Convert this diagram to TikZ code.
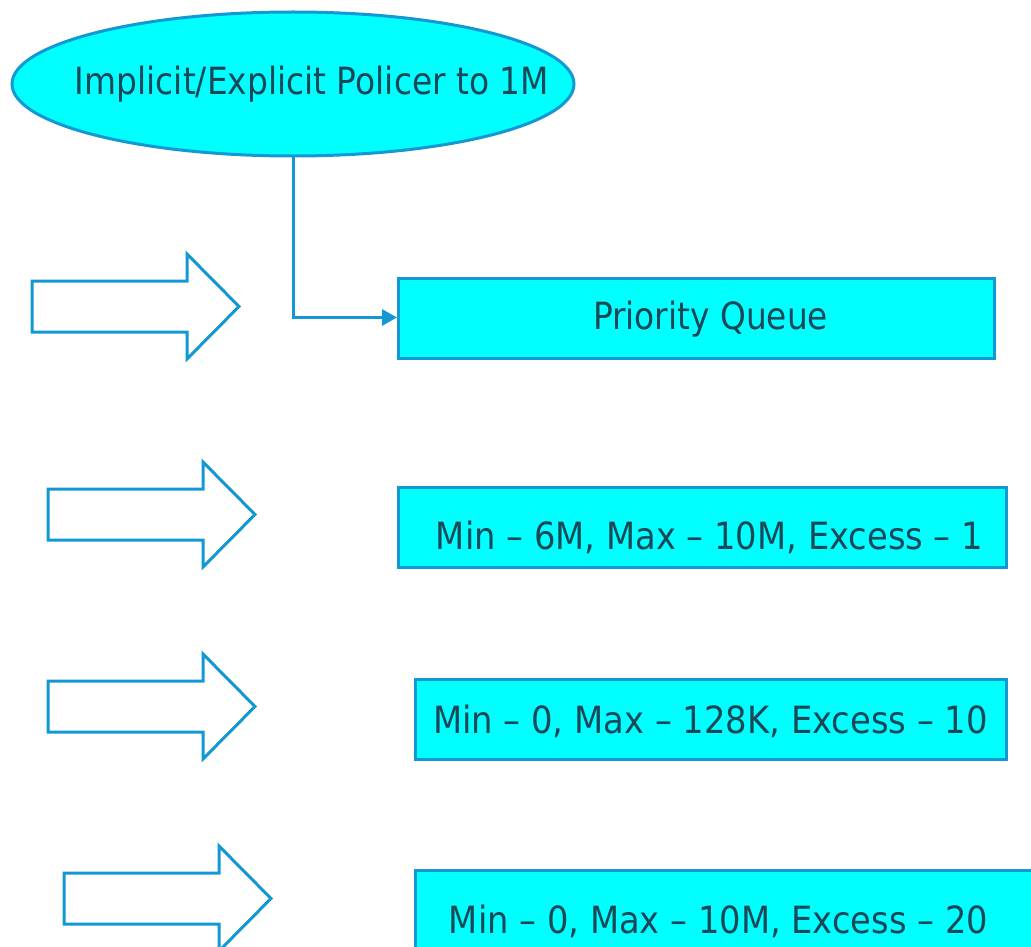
\documentclass[tikz,border=0pt]{standalone}
\usepackage{fontspec}
\setmainfont{DejaVu Sans}
\usetikzlibrary{shapes.geometric,arrows.meta}

\definecolor{edgeblue}{RGB}{20,152,212}
\definecolor{fillcyan}{RGB}{0,255,255}
\definecolor{inkteal}{RGB}{26,72,88}

% set a label to a given width, keeping its natural height
\newcommand\fitto[2]{\resizebox{#1}{\height}{#2}}

\begin{document}
\begin{tikzpicture}[x=1pt,y=-1pt,
  policy/.style={ellipse, draw=edgeblue, line width=3pt, fill=fillcyan,
    minimum width=562pt, minimum height=144pt, inner sep=0pt},
  queuebox/.style={rectangle, draw=edgeblue, line width=3pt, fill=fillcyan,
    inner sep=0pt, anchor=north west, minimum height=80pt},
  labeltext/.style={inner sep=0pt, anchor=base, text=inkteal,
    font=\fontsize{37.5}{40}\selectfont},
  link/.style={draw=edgeblue, line width=3pt,
    -{Triangle[length=15pt,width=16pt]}},
  blockarrow/.pic={
    \draw[draw=edgeblue, line width=3pt, fill=white, line join=miter]
      (0,-25.5) -- (155,-25.5) -- (155,-52.5) -- (207,0)
      -- (155,52.5) -- (155,25.5) -- (0,25.5) -- cycle;
  }
]
\useasboundingbox (0,0) rectangle (1031,947);
\clip (0,0) rectangle (1031,947);
\fill[white] (0,0) rectangle (1031,947);

% policer
\node[policy] (pol) at (293,84) {};
\node[labeltext] (polt) at (312,95) {\fitto{474pt}{Implicit/Explicit Policer to 1M}};

% queues
\node[queuebox, minimum width=596pt] (pq) at (397,277) {};
\node[labeltext] (pqt) at (710.5,329) {\fitto{235pt}{Priority Queue}};

\node[queuebox, minimum width=608pt] (q2) at (397,486) {};
\node[labeltext] (q2t) at (709.5,549) {\fitto{547pt}{Min – 6M, Max – 10M, Excess – 1}};

\node[queuebox, minimum width=591pt] (q3) at (414,678) {};
\node[labeltext] (q3t) at (710.5,733) {\fitto{555pt}{Min – 0, Max – 128K, Excess – 10}};

\node[queuebox, minimum width=640pt, minimum height=100pt] (q4) at (414,869) {};
\node[labeltext] (q4t) at (718.5,933) {\fitto{539pt}{Min – 0, Max – 10M, Excess – 20}};

% policed traffic into the priority queue
\draw[link] (pol.south) |- ([yshift=1pt]pq.west);

% incoming traffic
\pic at (32,306.5) {blockarrow};
\pic at (48,514.5) {blockarrow};
\pic at (48,706.5) {blockarrow};
\pic at (64,898.5) {blockarrow};
\end{tikzpicture}
\end{document}
